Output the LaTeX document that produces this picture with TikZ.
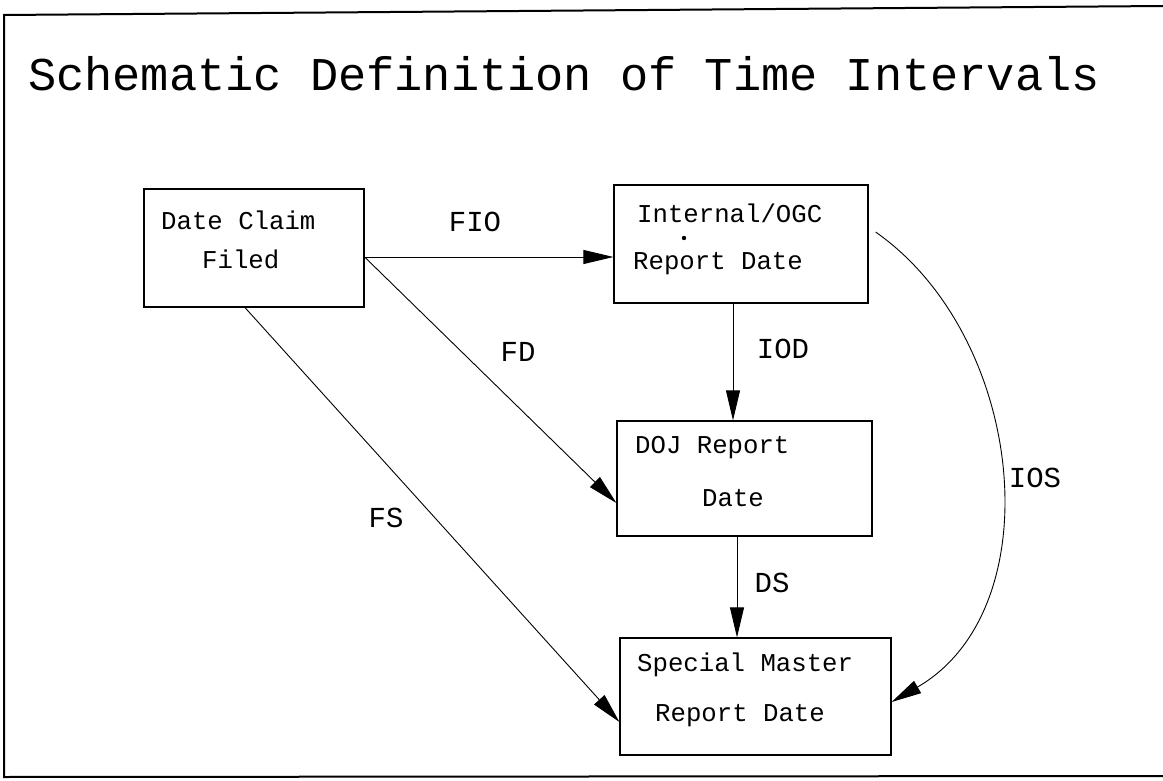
\documentclass[tikz,border=0pt]{standalone}
\usepackage{fontspec}
\setmonofont{Liberation Mono}
\usetikzlibrary{arrows.meta}
\begin{document}
\begin{tikzpicture}[x=1pt,y=-1pt,
  box/.style={draw, line width=1.2pt, minimum width=#1, inner sep=0pt},
  btext/.style={anchor=west, inner sep=0pt, font=\ttfamily\fontsize{25.7}{28}\selectfont},
  lbl/.style={inner sep=0pt, font=\ttfamily\fontsize{29}{32}\selectfont},
  conn/.style={line width=0.9pt, -{Triangle[length=30pt,width=14pt]}}]
\useasboundingbox (0,0) rectangle (1163,781);
% frame
\draw[line width=2pt] (1163,6) -- (4,15) -- (4,777) -- (1163,776);
% title
\node[anchor=west, inner sep=0pt, font=\ttfamily\fontsize{47}{50}\selectfont] (title) at (28,74) {Schematic Definition of Time Intervals};
% boxes
\node[box=220pt, minimum height=118pt] (b1) at (254,248) {};
\node[box=254pt, minimum height=118pt] (b2) at (741,244) {};
\node[box=255pt, minimum height=115pt] (b3) at (744.5,478.5) {};
\node[box=271pt, minimum height=117pt] (b4) at (755.5,696.5) {};
% box texts
\node[btext] (t1a) at (161,220) {Date Claim};
\node[btext] (t1b) at (202,259) {Filed};
\node[btext] (t2a) at (637,213) {Internal/OGC};
\node[btext] (t2b) at (633,264) {Report Date};
\fill (684,238) circle (2.2pt) coordinate (dot);
\node[btext] (t3a) at (635,448) {DOJ Report};
\node[btext] (t3b) at (702,498) {Date};
\node[btext] (t4a) at (637,665) {Special Master};
\node[btext] (t4b) at (655,716) {Report Date};
% connector endpoints
\coordinate (fS) at ([yshift=-9pt]b1.east);
\coordinate (fsS) at ([xshift=-9pt]b1.south);
\coordinate (iodS) at ([xshift=-8pt]b2.south);
\coordinate (dsS) at ([xshift=-7.5pt]b3.south);
\coordinate (iosS) at ([xshift=7pt,yshift=12pt]b2.east);
% connectors
\draw[conn] (fS) -- (fS -| b2.west);
\draw[conn] (fS) -- ([yshift=-24.5pt]b3.west);
\draw[conn] (fsS) -- ([yshift=-25.5pt]b4.west);
\draw[conn] (iodS) -- (iodS |- b3.north);
\draw[conn] (dsS) -- (dsS |- b4.north);
\draw[conn] (iosS) .. controls +(150,105) and +(161,-93) .. ([yshift=-5.5pt]b4.east);
% labels
\node[lbl] (lFIO) at (475,222) {FIO};
\node[lbl] (lFD) at (518,352) {FD};
\node[lbl] (lIOD) at (783,349) {IOD};
\node[lbl] (lDS) at (772,583) {DS};
\node[lbl] (lFS) at (386,518) {FS};
\node[lbl] (lIOS) at (1035,478) {IOS};
\end{tikzpicture}
\end{document}
